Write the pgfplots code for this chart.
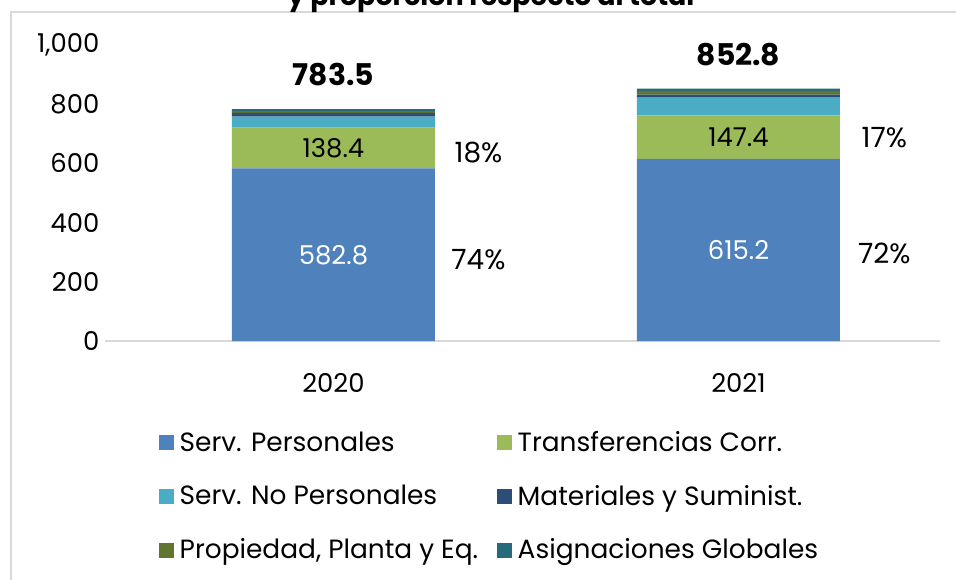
\documentclass[border=0pt]{standalone}
\usepackage{pgfplots}
\pgfplotsset{compat=1.18}
\usepackage{fontspec}
\setmainfont{Poppins}
\definecolor{cBlue}{HTML}{4F81BD}
\definecolor{cGreen}{HTML}{9BBB59}
\definecolor{cCyan}{HTML}{4BACC6}
\definecolor{cNavy}{HTML}{2C4D75}
\definecolor{cOlive}{HTML}{5F7530}
\definecolor{cTeal}{HTML}{276A7C}
\definecolor{cFrame}{HTML}{D9D9D9}
\begin{document}
\begin{tikzpicture}
\useasboundingbox (0,0) rectangle (956bp,580bp);
\draw[cFrame, line width=2bp] (11bp,-20bp) -- (11bp,568bp) -- (980bp,568bp);
\node[anchor=base, font=\fontsize{27}{30}\selectfont\bfseries] at (491bp,574bp) {y proporción respecto al total};
\begin{axis}[
  at={(105bp,239bp)}, anchor=south west,
  scale only axis, width=835bp, height=296bp,
  ybar stacked, bar width=203bp,
  xmin=-0.564, xmax=1.4975, ymin=0, ymax=1000,
  xtick={0,1}, xticklabels={2020,2021},
  ytick={0,200,400,600,800,1000},
  axis x line=bottom, axis y line=left,
  x axis line style={-, draw=cFrame, line width=1.5bp},
  y axis line style={draw=none},
  tick style={draw=none},
  /pgf/number format/assume math mode=true,
  /pgf/number format/1000 sep={,},
  ticklabel style={font=\fontsize{26}{30}\selectfont},
  xticklabel style={yshift=-27bp},
  yticklabel style={xshift=0bp},
  clip=false,
  legend columns=2,
  legend cell align=left,
  legend style={draw=none, fill=none, at={(0.0647,-0.305)}, anchor=north west,
    font=\fontsize{26.5}{28}\selectfont, row sep=32bp, inner sep=0pt,
    nodes={inner xsep=5.5bp, inner ysep=0pt}},
  legend image code/.code={\fill[#1] (0bp,-8bp) rectangle (15bp,7bp);},
]
\addplot[fill=cBlue, draw=none] coordinates {(0,582.8) (1,615.2)};
\addplot[fill=cGreen, draw=none] coordinates {(0,138.4) (1,147.4)};
\addplot[fill=cCyan, draw=none] coordinates {(0,37.0) (1,60.0)};
\addplot[fill=cNavy, draw=none] coordinates {(0,12.5) (1,10.0)};
\addplot[fill=cOlive, draw=none] coordinates {(0,6.0) (1,12.0)};
\addplot[fill=cTeal, draw=none] coordinates {(0,6.8) (1,8.2)};
\legend{\makebox[312bp][l]{Serv. Personales},Transferencias Corr.,\makebox[312bp][l]{Serv. No Personales},Materiales y Suminist.,\makebox[312bp][l]{Propiedad, Planta y Eq.},Asignaciones Globales}
\end{axis}
\begin{axis}[
  at={(105bp,239bp)}, anchor=south west,
  scale only axis, width=835bp, height=296bp,
  xmin=-0.564, xmax=1.4975, ymin=0, ymax=1000,
  hide axis, clip=false,
  nodes near coords, point meta=explicit symbolic,
]
\addplot[draw=none, mark=none, nodes near coords style={anchor=center, white, font=\fontsize{26}{30}\selectfont}]
  coordinates {(0,291.4) [582.8] (1,307.6) [615.2]};
\addplot[draw=none, mark=none, nodes near coords style={anchor=center, black, font=\fontsize{26}{30}\selectfont}]
  coordinates {(0,652.0) [138.4] (1,688.9) [147.4]};
\addplot[draw=none, mark=none, nodes near coords style={anchor=center, black, font=\fontsize{28}{30}\selectfont}]
  coordinates {(0.358,274) [74\%] (0.358,635) [18\%] (1.36,297) [72\%] (1.36,686) [17\%]};
\addplot[draw=none, mark=none, nodes near coords style={anchor=center, black, font=\fontsize{30}{32}\selectfont\bfseries}]
  coordinates {(0,899) [783.5] (1,966) [852.8]};
\end{axis}
\end{tikzpicture}
\end{document}
